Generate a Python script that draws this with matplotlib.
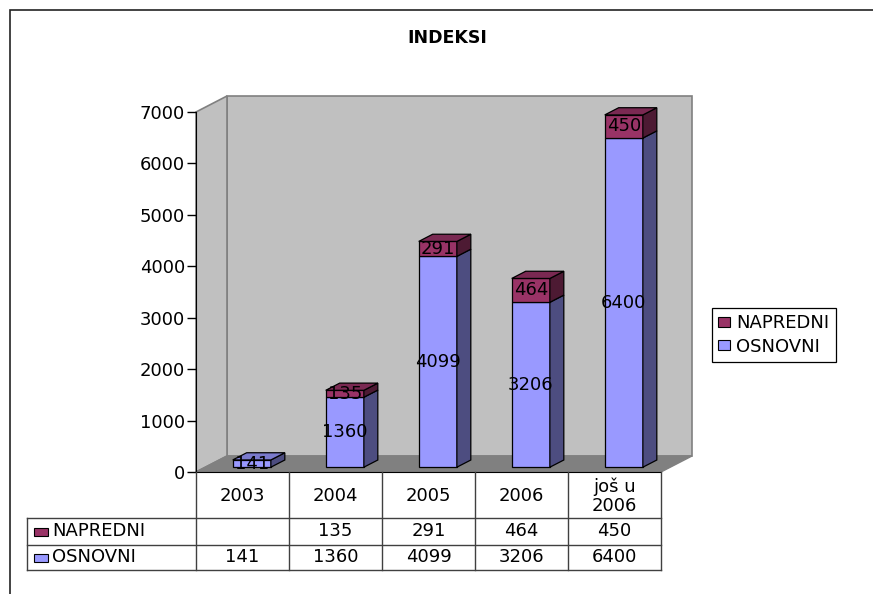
import matplotlib
matplotlib.use("Agg")
import matplotlib.pyplot as plt
from matplotlib.patches import Rectangle, Polygon, Patch
from matplotlib.lines import Line2D
from matplotlib.transforms import blended_transform_factory

# ---------------- data ----------------
categories = ["2003", "2004", "2005", "2006", "još u\n2006"]
osnovni = [141, 1360, 4099, 3206, 6400]
napredni = [None, 135, 291, 464, 450]
series_names = ["NAPREDNI", "OSNOVNI"]
y_ticks = [0, 1000, 2000, 3000, 4000, 5000, 6000, 7000]
title = "INDEKSI"

# ---------------- style ----------------
plt.rcParams["font.family"] = ["DejaVu Sans"]
FS = 13
C_OSN = ("#9999FF", "#4D4D80", "#7A7ACC")  # front, side, top
C_NAP = ("#993366", "#4D1A33", "#7A2952")

W, H = 873, 594
fig = plt.figure(figsize=(W / 100, H / 100), dpi=100)


def fx(px):
    return px / W


def fy(py):
    return 1 - py / H


# front plane of the 3D plot area
ax = fig.add_axes([fx(196), fy(472), fx(661) - fx(196), fy(112) - fy(472)])
ncat = len(categories)
ax.set_xlim(0, ncat)
ax.set_ylim(0, 7000)
ax.patch.set_visible(False)

# unit size of one pixel in data coords
ux = ncat / (661 - 196)
uy = 7000 / (472 - 112)
DX, DY = 31 * ux, 16 * uy  # floor depth
d0, d1 = 0.30, 0.75        # bar depth range (fraction)
bw = 0.41                  # bar width (category units)

# walls and floor
ymax = ax.get_ylim()[1]
ax.add_patch(Rectangle((DX, DY), ncat, ymax, fc="#C0C0C0", ec="#808080",
                       lw=1.2, clip_on=False, zorder=0))
ax.add_patch(Polygon([(0, 0), (DX, DY), (DX, ymax + DY), (0, ymax)],
                     closed=True, fc="#C0C0C0", ec="#808080", lw=1.2,
                     clip_on=False, zorder=0))
ax.add_patch(Polygon([(0, 0), (ncat, 0), (ncat + DX, DY), (DX, DY)],
                     closed=True, fc="#808080", ec="#808080", lw=1,
                     clip_on=False, zorder=0.5))

ddx, ddy = (d1 - d0) * DX, (d1 - d0) * DY


def draw_segment(x0, y0, ya, yb, cols, top):
    ax.add_patch(Rectangle((x0, y0 + ya), bw, yb - ya, fc=cols[0], ec="black",
                           lw=0.9, clip_on=False, zorder=2))
    ax.add_patch(Polygon([(x0 + bw, y0 + ya), (x0 + bw + ddx, y0 + ya + ddy),
                          (x0 + bw + ddx, y0 + yb + ddy), (x0 + bw, y0 + yb)],
                         closed=True, fc=cols[1], ec="black", lw=0.9,
                         clip_on=False, zorder=2))
    if top:
        ax.add_patch(Polygon([(x0, y0 + yb), (x0 + ddx, y0 + yb + ddy),
                              (x0 + bw + ddx, y0 + yb + ddy), (x0 + bw, y0 + yb)],
                             closed=True, fc=cols[2], ec="black", lw=0.9,
                             clip_on=False, zorder=2))


for i, (o, n) in enumerate(zip(osnovni, napredni)):
    x0 = i + (1 - bw) / 2 + d0 * DX
    y0 = d0 * DY
    has_n = n is not None and n > 0
    draw_segment(x0, y0, 0, o, C_OSN, top=not has_n)
    ax.text(x0 + bw / 2, y0 + o / 2, str(o), ha="center", va="center",
            fontsize=FS, zorder=5, clip_on=False)
    if has_n:
        draw_segment(x0, y0, o, o + n, C_NAP, top=True)
        ax.text(x0 + bw / 2, y0 + o + n / 2, str(n), ha="center", va="center",
                fontsize=FS, zorder=5, clip_on=False)

# axes styling
for s in ("top", "right"):
    ax.spines[s].set_visible(False)
ax.spines["left"].set_color("black")
ax.spines["bottom"].set_color("black")
ax.spines["left"].set_zorder(3)
ax.set_yticks(y_ticks)
ax.set_xticks([])
ax.tick_params(axis="y", direction="out", length=6.5, width=1,
               labelsize=FS, pad=1.5)

# title
fig.text(fx(447), fy(38), title, ha="center", va="center",
         fontsize=12.5, fontweight="bold")

# ---------------- data table ----------------
tr = blended_transform_factory(ax.transData, fig.transFigure)
LC = "#404040"
r0, r1, r2, r3 = 472, 518, 545, 570
xl = fx(27)
x_end = fx(661)

for k in range(ncat + 1):
    fig.add_artist(Line2D([k, k], [fy(r0), fy(r3)], color=LC, lw=1, transform=tr))
for py in (r1, r2, r3):
    fig.add_artist(Line2D([xl, x_end], [fy(py), fy(py)], color=LC, lw=1,
                          transform=fig.transFigure))
fig.add_artist(Line2D([xl, xl], [fy(r1), fy(r3)], color=LC, lw=1,
                      transform=fig.transFigure))

for k, c in enumerate(categories):
    fig.text(k + 0.5, fy((r0 + r1) / 2 + 1), c, transform=tr, ha="center",
             va="center", fontsize=FS, linespacing=1.05)
rows = [(series_names[0], napredni, C_NAP[0], (r1 + r2) / 2),
        (series_names[1], osnovni, C_OSN[0], (r2 + r3) / 2)]
for name, vals, col, yc in rows:
    fig.add_artist(Rectangle((fx(34), fy(yc + 4.5)), fx(14), 8 / H, fc=col,
                             ec="black", lw=0.8, transform=fig.transFigure))
    fig.text(fx(52), fy(yc), name, ha="left", va="center", fontsize=FS)
    for k, v in enumerate(vals):
        if v is not None:
            fig.text(k + 0.5, fy(yc), str(v), transform=tr, ha="center",
                     va="center", fontsize=FS)

# ---------------- legend ----------------
handles = [Patch(fc=C_NAP[0], ec="black", lw=0.8),
           Patch(fc=C_OSN[0], ec="black", lw=0.8)]
leg = fig.legend(handles, series_names, loc="upper left",
                 bbox_to_anchor=(fx(712), fy(308)), fontsize=FS,
                 handlelength=0.65, handleheight=0.45, handletextpad=0.35,
                 borderpad=0.35, labelspacing=0.3, borderaxespad=0,
                 fancybox=False, framealpha=1)
leg.get_frame().set_edgecolor("black")
leg.get_frame().set_linewidth(0.9)

# outer chart frame (continues beyond the right and bottom edges)
fig.add_artist(Rectangle((fx(9.5), fy(700)), fx(1000), fy(10.5) - fy(700),
                         fill=False, ec="#222222", lw=1.2,
                         transform=fig.transFigure))

fig.savefig("out.png", dpi=100)
